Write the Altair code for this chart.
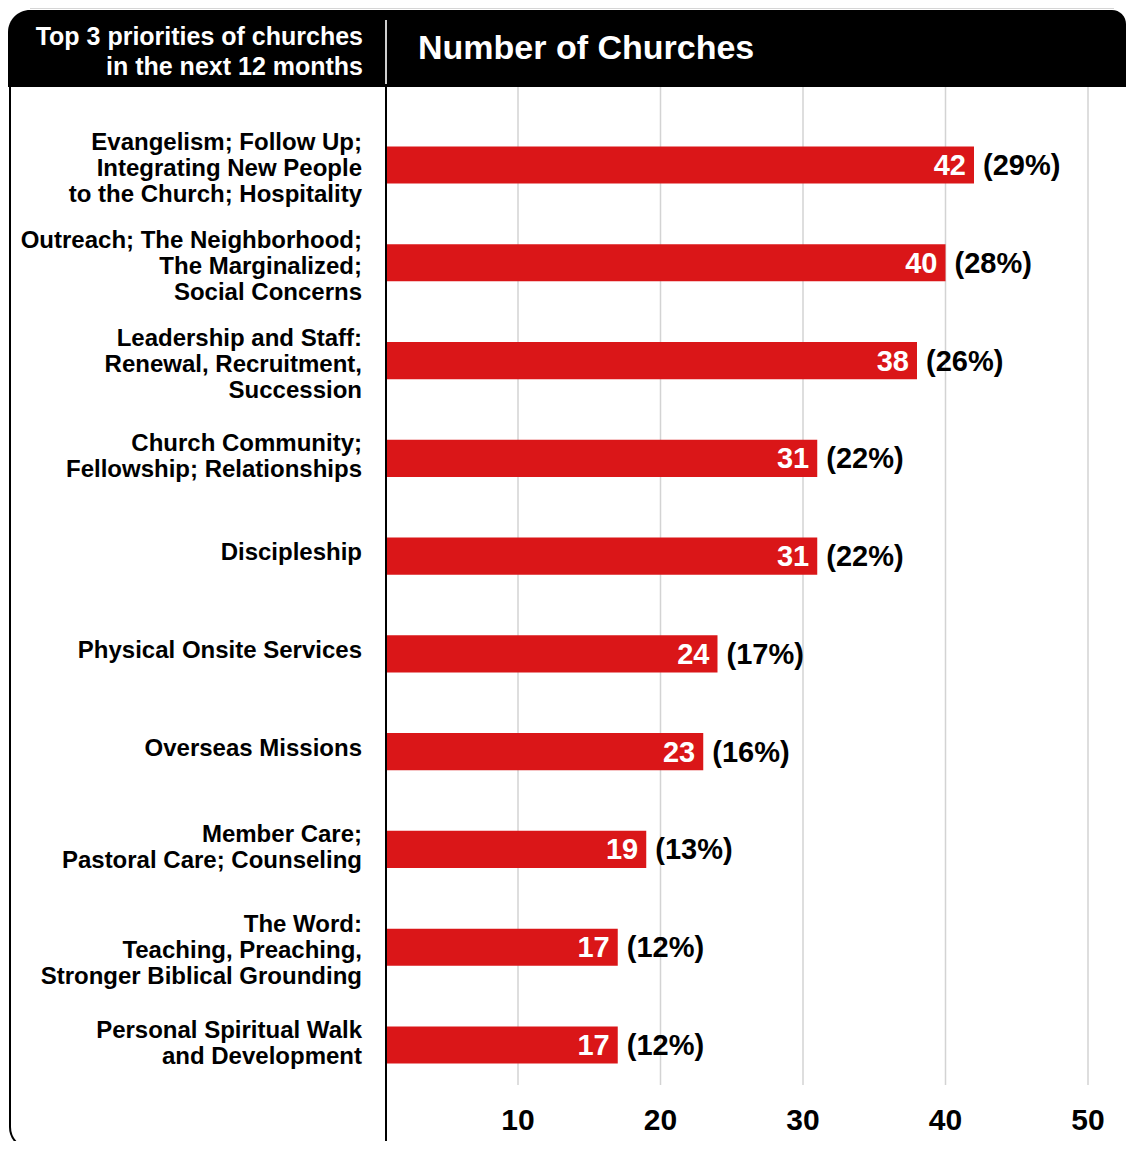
import altair as alt
import pandas as pd

categories = [
    "Evangelism; Follow Up;\nIntegrating New People\nto the Church; Hospitality",
    "Outreach; The Neighborhood;\nThe Marginalized;\nSocial Concerns",
    "Leadership and Staff:\nRenewal, Recruitment,\nSuccession",
    "Church Community;\nFellowship; Relationships",
    "Discipleship",
    "Physical Onsite Services",
    "Overseas Missions",
    "Member Care;\nPastoral Care; Counseling",
    "The Word:\nTeaching, Preaching,\nStronger Biblical Grounding",
    "Personal Spiritual Walk\nand Development",
]
counts = [42, 40, 38, 31, 31, 24, 23, 19, 17, 17]
percents = ["(29%)", "(28%)", "(26%)", "(22%)", "(22%)", "(17%)", "(16%)", "(13%)", "(12%)", "(12%)"]
ticks = [10, 20, 30, 40, 50]
left_title = "Top 3 priorities of churches\nin the next 12 months"
right_title = "Number of Churches"

FONT = "Liberation Sans"
RED = "#da1618"

df = pd.DataFrame({"label": categories, "count": counts, "pct": percents})
df["nlines"] = df["label"].str.count("\n") + 1
tick_df = pd.DataFrame({"t": ticks})
one = pd.DataFrame({"k": [0]})

W = 740
xscale = alt.Scale(domain=[0.737, 0.737 + W / 14.25], nice=False, zero=False, clamp=True)
yenc = alt.Y("label:N", sort=categories, axis=None,
             scale=alt.Scale(paddingInner=0.62, paddingOuter=0.608))

grid = alt.Chart(tick_df).mark_rule(color="#d3d3d3", strokeWidth=1.5).encode(
    x=alt.X("t:Q", scale=xscale, axis=None),
    y=alt.value(0), y2=alt.value(998))

bars = alt.Chart(df).mark_bar(color=RED).encode(
    x=alt.X("count:Q", scale=xscale, axis=None),
    y=yenc)

vals = alt.Chart(df).mark_text(align="right", baseline="middle", dx=-8, dy=1,
                               font=FONT, fontSize=29, fontWeight="bold",
                               color="white").encode(
    x=alt.X("count:Q", scale=xscale, axis=None), y=yenc, text="count:Q")

pcts = alt.Chart(df).mark_text(align="left", baseline="middle", dx=9, dy=1,
                               font=FONT, fontSize=29, fontWeight="bold",
                               color="black").encode(
    x=alt.X("count:Q", scale=xscale, axis=None), y=yenc, text="pct:N")


def cat_layer(n, dy):
    return alt.Chart(df).transform_filter(alt.datum.nlines == n).mark_text(
        align="right", baseline="middle", dy=dy,
        font=FONT, fontSize=24, fontWeight="bold",
        lineBreak="\n", lineHeight=26, color="black").encode(
        x=alt.value(-24), y=yenc, text="label:N")


cats1 = cat_layer(1, -3)
cats2 = cat_layer(2, -14)
cats3 = cat_layer(3, -22)

tick_labels = alt.Chart(tick_df).mark_text(align="center", baseline="middle",
                                           font=FONT, fontSize=30,
                                           fontWeight="bold", color="black").encode(
    x=alt.X("t:Q", scale=xscale, axis=None), y=alt.value(1034), text="t:Q")

border = alt.Chart(one).mark_rect(fillOpacity=0, stroke="black", strokeWidth=2,
                                  cornerRadiusBottomLeft=22).encode(
    x=alt.value(-376), x2=alt.value(0), y=alt.value(-20), y2=alt.value(1062))

top_line = alt.Chart(one).mark_rule(color="#d6d6d6", strokeWidth=1).encode(
    x=alt.value(-356), x2=alt.value(W - 12), y=alt.value(-78.5))

header = alt.Chart(one).mark_rect(color="black", cornerRadiusTopLeft=22,
                                  cornerRadiusTopRight=14).encode(
    x=alt.value(-378), x2=alt.value(W), y=alt.value(-77), y2=alt.value(0))

header_sep = alt.Chart(one).mark_rule(color="#cfcfcf", strokeWidth=2).encode(
    x=alt.value(0), y=alt.value(-67), y2=alt.value(-3))

title_left = alt.Chart(one).mark_text(align="right", baseline="middle",
                                      font=FONT, fontSize=25, fontWeight="bold",
                                      lineBreak="\n", lineHeight=30,
                                      color="white").encode(
    x=alt.value(-23), y=alt.value(-50), text=alt.value(left_title))

title_right = alt.Chart(one).mark_text(align="left", baseline="middle",
                                       font=FONT, fontSize=34, fontWeight="bold",
                                       color="white").encode(
    x=alt.value(32), y=alt.value(-38), text=alt.value(right_title))

chart = alt.layer(
    grid, bars, border, top_line, header, header_sep, vals, pcts,
    cats1, cats2, cats3, tick_labels, title_left, title_right
).properties(
    width=W, height=1036,
    autosize=alt.AutoSizeParams(type="none"),
    padding={"left": 378, "top": 79, "right": 0, "bottom": 18},
    background="white",
).configure_view(stroke=None)

chart.save("out.html", embed_options={"renderer": "svg", "actions": False})
